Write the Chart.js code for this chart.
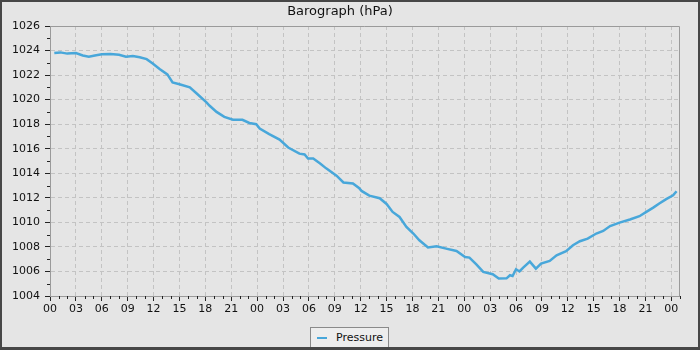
<!DOCTYPE html>
<html>
<head>
<meta charset="utf-8">
<script src="https://cdn.jsdelivr.net/npm/chart.js@4/dist/chart.umd.min.js"></script>
<style>
  html, body { margin: 0; padding: 0; background: #e5e5e5; }
  #wrap { position: relative; width: 700px; height: 350px; background: #e5e5e5; font-family: "DejaVu Sans", sans-serif; }
  #frame { position: absolute; left: 0; top: 0; width: 700px; height: 350px; box-sizing: border-box;
           border: 2px solid #474747; border-bottom-width: 3px; pointer-events: none; }
  #legend { position: absolute; left: 310px; top: 327px; width: 79px; height: 21px; box-sizing: border-box;
            background: #ededed; border: 1px solid #8a8a8a; font-size: 11px; color: #111; }
  #legend .swatch { position: absolute; left: 6px; top: 9px; width: 10px; height: 2px; background: #48a7da; }
  #legend .lbl { position: absolute; left: 25px; top: 3px; }
</style>
</head>
<body>
<div id="wrap">
  <canvas id="baro" width="700" height="350"></canvas>
  <div id="legend"><span class="swatch"></span><span class="lbl">Pressure</span></div>
  <div id="frame"></div>
</div>
<script>
'use strict';

/* ── data (hours since start, hPa) ── */
const hours = [0.5,1.2,2.0,3.0,3.8,4.5,5.2,6.0,7.0,8.0,8.8,9.6,10.4,11.2,11.9,12.7,13.6,14.2,15.0,16.2,
  17.0,18.1,18.5,19.3,20.2,21.2,22.3,23.1,23.9,24.3,25.4,26.6,27.6,28.9,29.5,29.9,30.5,31.3,32.0,33.2,
  34.0,35.1,35.8,36.1,37.0,38.2,39.0,39.7,40.5,41.3,42.1,42.8,43.8,44.8,45.9,47.1,48.1,48.6,49.4,50.2,
  51.3,52.0,52.9,53.3,53.6,54.0,54.4,54.8,55.6,56.3,56.9,57.9,58.7,59.8,60.6,61.4,62.3,63.3,64.1,64.9,
  66.0,67.2,68.3,69.1,69.9,70.6,71.4,72.2,72.6];
const pressure = [1023.8,1023.85,1023.75,1023.8,1023.6,1023.5,1023.6,1023.7,1023.72,1023.65,1023.5,1023.55,1023.45,1023.3,1022.95,1022.5,1022.06,1021.4,1021.25,1021.0,
  1020.5,1019.8,1019.5,1019.0,1018.6,1018.36,1018.36,1018.1,1018.0,1017.65,1017.19,1016.75,1016.1,1015.6,1015.53,1015.2,1015.2,1014.8,1014.4,1013.8,
  1013.25,1013.17,1012.8,1012.56,1012.18,1011.97,1011.5,1010.85,1010.44,1009.63,1009.09,1008.54,1007.95,1008.05,1007.86,1007.67,1007.18,1007.13,1006.58,1005.96,
  1005.77,1005.42,1005.44,1005.69,1005.63,1006.18,1006.0,1006.3,1006.8,1006.23,1006.64,1006.86,1007.32,1007.65,1008.14,1008.46,1008.68,1009.09,1009.3,1009.7,
  1009.98,1010.23,1010.5,1010.85,1011.2,1011.54,1011.89,1012.2,1012.54];
const X_MIN = 0, X_MAX = 73;
const Y_MIN = 1004, Y_MAX = 1026;

const pad2 = n => String(n).padStart(2, '0');
const isMajorX = v => v % 3 === 0;
const isMajorY = v => v % 2 === 0;

/* ── plot frame + minor ticks ── */
const framePlugin = {
  id: 'frame',
  afterDraw(chart) {
    const { ctx, chartArea: a, scales: { x, y } } = chart;
    ctx.save();
    ctx.lineWidth = 1;
    ctx.strokeStyle = '#9a9a9a';
    ctx.beginPath();
    ctx.moveTo(a.left, Math.round(a.top) + 0.5);
    ctx.lineTo(Math.round(a.right) - 0.5, Math.round(a.top) + 0.5);
    ctx.lineTo(Math.round(a.right) - 0.5, a.bottom);
    ctx.stroke();
    ctx.strokeStyle = '#222';
    ctx.beginPath();
    for (let v = X_MIN; v <= X_MAX; v++) {
      if (isMajorX(v)) continue;
      const px = Math.round(x.getPixelForValue(v)) + 0.5;
      ctx.moveTo(px, a.bottom); ctx.lineTo(px, a.bottom + 3);
    }
    for (let v = Y_MIN; v <= Y_MAX; v++) {
      if (isMajorY(v)) continue;
      const py = Math.round(y.getPixelForValue(v)) + 0.5;
      ctx.moveTo(a.left - 3, py); ctx.lineTo(a.left, py);
    }
    ctx.stroke();
    ctx.restore();
  }
};

Chart.defaults.font.family = '"DejaVu Sans", sans-serif';
Chart.defaults.font.size = 11;
Chart.defaults.color = '#111';

new Chart(document.getElementById('baro'), {
  type: 'line',
  data: {
    datasets: [{
      label: 'Pressure',
      data: hours.map((h, i) => ({ x: h, y: pressure[i] })),
      borderColor: '#48a7da',
      borderWidth: 2.5,
      pointRadius: 0,
      tension: 0,
      fill: false
    }]
  },
  options: {
    responsive: false,
    animation: false,
    devicePixelRatio: 1,
    layout: { padding: { left: 0, right: 20, top: 0, bottom: 0 } },
    plugins: {
      legend: { display: false },
      tooltip: { enabled: false },
      title: {
        display: true, text: 'Barograph (hPa)', color: '#111',
        font: { size: 13, weight: 'normal' }, padding: { top: 4, bottom: 6.4 }
      }
    },
    scales: {
      x: {
        type: 'linear', min: X_MIN, max: X_MAX,
        afterFit: s => { s.height = 54; },
        ticks: {
          stepSize: 1, autoSkip: false, maxRotation: 0, padding: 2,
          callback: v => isMajorX(v) ? pad2(v % 24) : ''
        },
        grid: {
          color: c => (c.tick && isMajorX(c.tick.value)) ? '#c3c3c3' : 'transparent',
          tickColor: c => (c.tick && isMajorX(c.tick.value)) ? '#222' : 'transparent',
          tickLength: 5, lineWidth: 1
        },
        border: { display: true, color: '#9a9a9a', dash: [4, 3] }
      },
      y: {
        min: Y_MIN, max: Y_MAX,
        afterFit: s => { s.width = 50; },
        ticks: {
          stepSize: 1, autoSkip: false, padding: 5,
          callback: v => isMajorY(v) ? String(v) : ''
        },
        grid: {
          color: c => (c.tick && isMajorY(c.tick.value)) ? '#c3c3c3' : 'transparent',
          tickColor: c => (c.tick && isMajorY(c.tick.value)) ? '#222' : 'transparent',
          tickLength: 5, lineWidth: 1
        },
        border: { display: true, color: '#9a9a9a', dash: [4, 3] }
      }
    }
  },
  plugins: [framePlugin]
});
</script>
</body>
</html>
